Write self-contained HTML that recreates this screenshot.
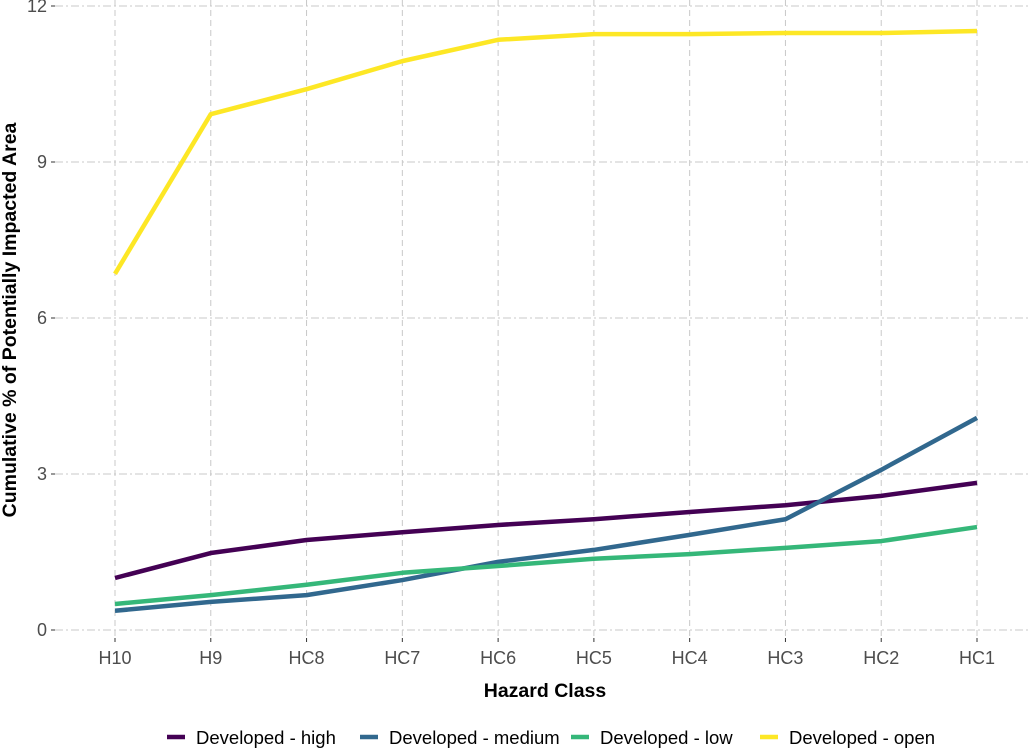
<!DOCTYPE html>
<html><head><meta charset="utf-8"><style>
body{margin:0;background:#fff;}
svg{display:block;font-family:"Liberation Sans",Arial,sans-serif;}
</style></head><body>
<svg id="chart" width="1031" height="748"></svg>
<script>
const categories=["H10","H9","HC8","HC7","HC6","HC5","HC4","HC3","HC2","HC1"];
const seriesNames=["Developed - high","Developed - medium","Developed - low","Developed - open"];
const highVals=[1.0,1.48,1.73,1.88,2.02,2.13,2.27,2.4,2.58,2.83];
const mediumVals=[0.37,0.54,0.67,0.96,1.31,1.54,1.83,2.13,3.08,4.08];
const lowVals=[0.5,0.67,0.87,1.1,1.23,1.37,1.46,1.58,1.71,1.98];
const openVals=[6.85,9.92,10.4,10.94,11.35,11.46,11.46,11.48,11.48,11.52];
const yTicks=[0,3,6,9,12];
const colors=["#440154","#31688e","#35b779","#fde725"];
const NS="http://www.w3.org/2000/svg";
const svg=document.getElementById("chart");
const x=i=>115+i*(977-115)/9;
const y=v=>630-v*52;
function mk(t,a,txt){const e=document.createElementNS(NS,t);for(const k in a)e.setAttribute(k,a[k]);if(txt!==undefined)e.textContent=txt;svg.appendChild(e);return e;}
yTicks.forEach(v=>{
 let g=mk("line",{x1:55,x2:1031,y1:y(v),y2:y(v),stroke:"#c8c8c8","stroke-dasharray":"8 3 2 3","stroke-width":1});
 
 
 mk("line",{x1:51,x2:55,y1:y(v),y2:y(v),stroke:"#333"});
 let t=mk("text",{x:47,y:y(v)+6,"text-anchor":"end","font-size":18,fill:"#4d4d4d"},v);
 
 
});
categories.forEach((c,i)=>{
 let g=mk("line",{x1:x(i),x2:x(i),y1:0,y2:638,stroke:"#c8c8c8","stroke-dasharray":"6 4","stroke-width":1});
 
 
 mk("line",{x1:x(i),x2:x(i),y1:638,y2:642,stroke:"#333"});
 let t=mk("text",{x:x(i),y:664,"text-anchor":"middle","font-size":18,fill:"#4d4d4d"},c);
 
 
});
[highVals,mediumVals,lowVals,openVals].forEach((vals,s)=>{
 const p=mk("polyline",{points:vals.map((v,i)=>x(i)+","+y(v)).join(" "),fill:"none",stroke:colors[s],"stroke-width":4.5,"stroke-linejoin":"round"});
 
 
});
let xt=mk("text",{x:545,y:697,"text-anchor":"middle","font-size":19.5,"font-weight":"bold",fill:"#000"},"Hazard Class");


let yt=mk("text",{x:0,y:0,transform:"translate(16,320) rotate(-90)","text-anchor":"middle","font-size":19.5,"font-weight":"bold",fill:"#000"},"Cumulative % of Potentially Impacted Area");


const legX=[167,360,571,760];
seriesNames.forEach((n,s)=>{
 let l=mk("line",{x1:legX[s],x2:legX[s]+18,y1:737,y2:737,stroke:colors[s],"stroke-width":4.5});
 
 
 let t=mk("text",{x:legX[s]+29,y:744,"font-size":18.5,fill:"#000"},n);
 
 
});
</script>
</body></html>
